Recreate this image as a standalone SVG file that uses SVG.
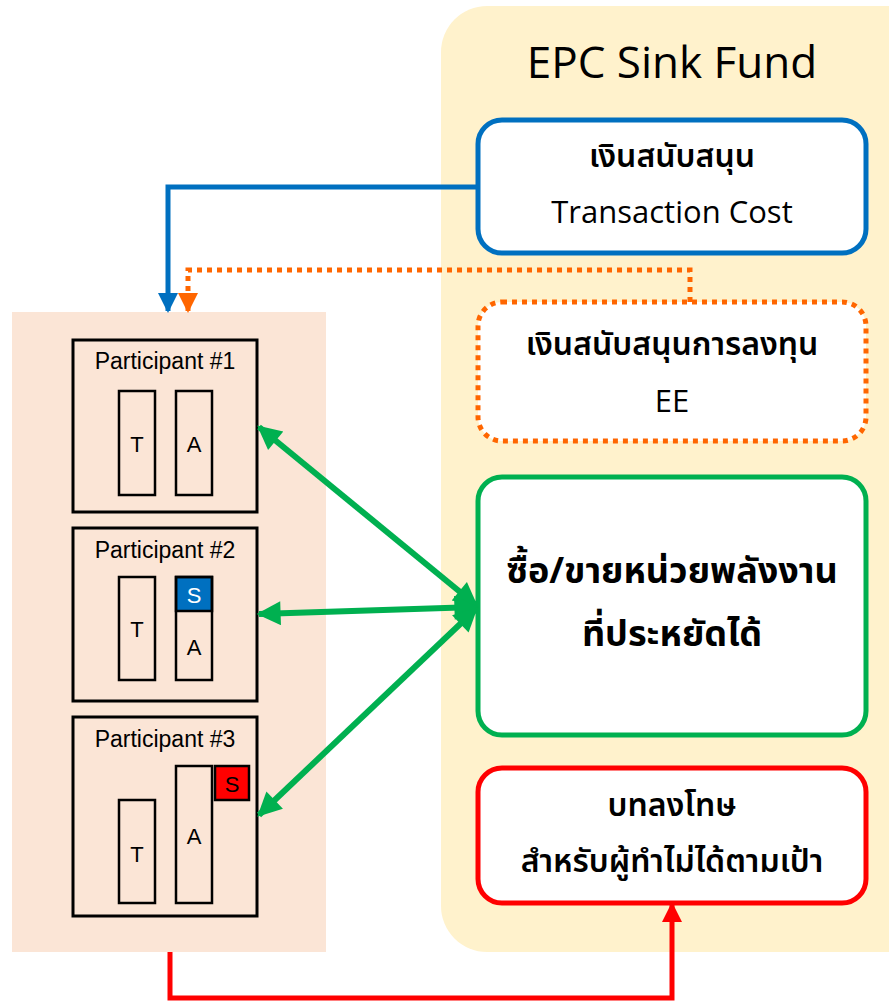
<svg xmlns="http://www.w3.org/2000/svg" width="889" height="1002" viewBox="0 0 889 1002">
<defs>
<style>
.part{fill:none;stroke:#000;stroke-width:3}
.bar{fill:none;stroke:#000;stroke-width:2.5}
.ptxt{font-family:"Liberation Sans",Arial,sans-serif;font-size:23px;fill:#000;text-anchor:middle}
.ltr{font-family:"Liberation Sans",Arial,sans-serif;font-size:22px;fill:#000;text-anchor:middle}
.th{font-family:"Noto Sans Thai","Noto Sans","DejaVu Sans",sans-serif;font-weight:600;font-size:32px;fill:#000;text-anchor:middle}
.thb{font-family:"Noto Sans Thai","Noto Sans","DejaVu Sans",sans-serif;font-weight:bold;font-size:36px;fill:#000;text-anchor:middle}
.en{font-family:"Open Sans","Noto Sans",sans-serif;font-size:31px;fill:#000;text-anchor:middle}
.node{fill:#fff;stroke-width:5}
</style>
<marker id="ab" viewBox="0 0 10 10" refX="9" refY="5" markerWidth="4" markerHeight="4" orient="auto"><path d="M0,0 L10,5 L0,10 z" fill="#0070C0"/></marker>
<marker id="ao" viewBox="0 0 10 10" refX="9" refY="5" markerWidth="4" markerHeight="4" orient="auto"><path d="M0,0 L10,5 L0,10 z" fill="#FF6600"/></marker>
<marker id="ar" viewBox="0 0 10 10" refX="9" refY="5" markerWidth="4" markerHeight="4" orient="auto"><path d="M0,0 L10,5 L0,10 z" fill="#FF0000"/></marker>
<marker id="ag" viewBox="0 0 10 10" refX="9" refY="5" markerWidth="4.5" markerHeight="4" orient="auto-start-reverse"><path d="M0,0 L10,5 L0,10 z" fill="#00B050"/></marker>
</defs>
<rect width="889" height="1002" fill="#fff"/>
<g id="fund-panel">
<rect x="441" y="6" width="500" height="946" rx="46" fill="#FFF2CC"/>
<text x="672" y="78" font-family="Open Sans,Noto Sans,sans-serif" font-size="44" text-anchor="middle" fill="#000">EPC Sink Fund</text>
</g>
<g id="participants-panel">
<rect x="12" y="312" width="314" height="640" fill="#FBE5D6"/>
</g>
<g id="participant1">
<rect class="part" x="73" y="340" width="184" height="172"/>
<text class="ptxt" x="165" y="369">Participant #1</text>
<rect class="bar" x="119" y="391" width="36" height="104"/>
<text class="ltr" x="137" y="452">T</text>
<rect class="bar" x="176" y="391" width="36" height="104"/>
<text class="ltr" x="194" y="452">A</text>
</g>
<g id="participant2">
<rect class="part" x="73" y="528" width="184" height="173"/>
<text class="ptxt" x="165" y="558">Participant #2</text>
<rect class="bar" x="119" y="577" width="36" height="103"/>
<text class="ltr" x="137" y="637">T</text>
<rect x="176" y="577" width="36" height="34" fill="#0070C0" stroke="#000" stroke-width="2.5"/>
<text class="ltr" x="194" y="603" style="fill:#fff">S</text>
<rect class="bar" x="176" y="577" width="36" height="103"/>
<text class="ltr" x="194" y="655">A</text>
</g>
<g id="participant3">
<rect class="part" x="73" y="717" width="184" height="199"/>
<text class="ptxt" x="165" y="747">Participant #3</text>
<rect class="bar" x="119" y="800" width="36" height="103"/>
<text class="ltr" x="137" y="862">T</text>
<rect class="bar" x="176" y="766" width="36" height="137"/>
<text class="ltr" x="194" y="844">A</text>
<rect x="215" y="766" width="34" height="34" fill="#FF0000" stroke="#000" stroke-width="2.5"/>
<text class="ltr" x="232" y="792">S</text>
</g>
<g id="node-transaction">
<rect class="node" x="478" y="120" width="388" height="133" rx="24" stroke="#0070C0"/>
<text class="th" x="672" y="167">เงินสนับสนุน</text>
<text class="en" x="672" y="223">Transaction Cost</text>
</g>
<g id="node-ee">
<rect class="node" x="478" y="302" width="388" height="139" rx="24" stroke="#FF6600" stroke-dasharray="5 5"/>
<text class="th" x="672" y="355">เงินสนับสนุนการลงทุน</text>
<text class="en" x="672" y="412">EE</text>
</g>
<g id="node-trade">
<rect class="node" x="478" y="477" width="388" height="258" rx="24" stroke="#00B050"/>
<text class="thb" x="672" y="583">ซื้อ/ขายหน่วยพลังงาน</text>
<text class="thb" x="672" y="646">ที่ประหยัดได้</text>
</g>
<g id="node-penalty">
<rect class="node" x="478" y="768" width="388" height="135" rx="24" stroke="#FF0000"/>
<text class="th" x="672" y="816">บทลงโทษ</text>
<text class="th" x="672" y="872">สำหรับผู้ทำไม่ได้ตามเป้า</text>
</g>
<g id="connectors" fill="none">
<path d="M478,187 H168 V311" stroke="#0070C0" stroke-width="5" marker-end="url(#ab)"/>
<path d="M690,302 V270 H188 V311" stroke="#FF6600" stroke-width="5" stroke-dasharray="5 5" marker-end="url(#ao)"/>
<path d="M170,952 V998 H672 V904" stroke="#FF0000" stroke-width="5" marker-end="url(#ar)"/>
<path d="M259,427 L476,605" stroke="#00B050" stroke-width="6" marker-start="url(#ag)" marker-end="url(#ag)"/>
<path d="M259,614 L476,607" stroke="#00B050" stroke-width="6" marker-start="url(#ag)" marker-end="url(#ag)"/>
<path d="M259,815 L476,609" stroke="#00B050" stroke-width="6" marker-start="url(#ag)" marker-end="url(#ag)"/>
</g>
</svg>
